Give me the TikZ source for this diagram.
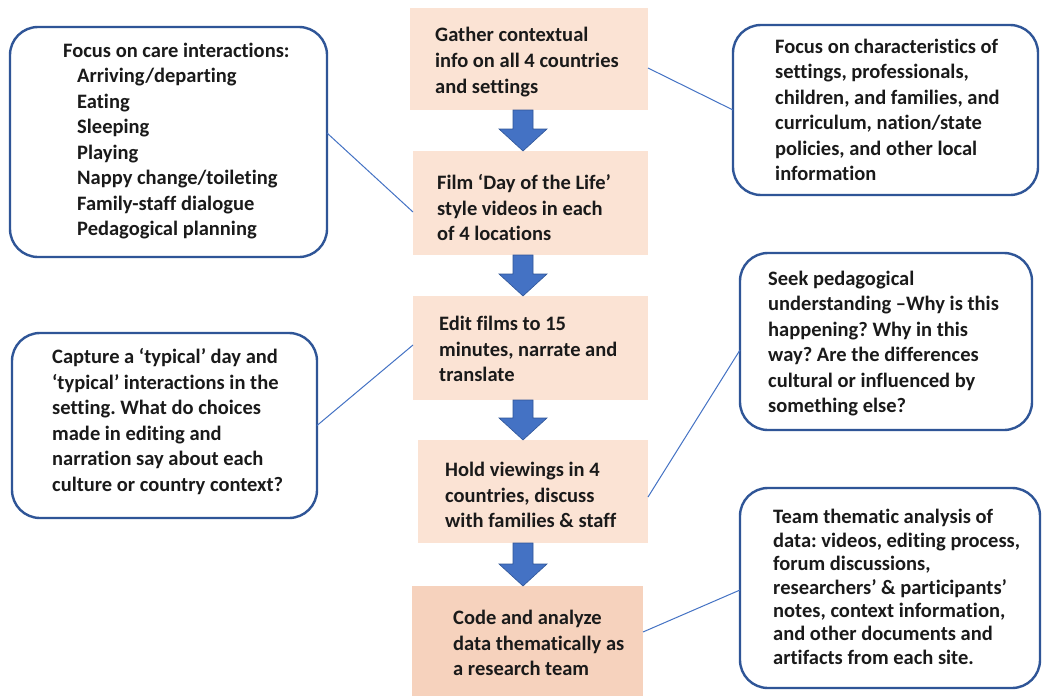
\documentclass[tikz,border=0pt]{standalone}
\usepackage{fontspec}
\setmainfont{Carlito}[Ligatures={NoCommon,NoContextual}, Contextuals=NoAlternate]
\usetikzlibrary{calc}
\frenchspacing
\definecolor{peach}{HTML}{FBE3D4}
\definecolor{peachdark}{HTML}{F6D2BD}
\definecolor{frameblue}{HTML}{2F5597}
\definecolor{connblue}{HTML}{4472C4}
\definecolor{arrowblue}{HTML}{4472C4}
\definecolor{txt}{HTML}{1A1A1A}
\newcommand\flowarrow[2]{%
  \path let \p1=(#1.south), \p2=(#2.north) in
    [blockarrow] (513pt,\y1) -- (533pt,\y1) -- (533pt,\y2+22pt) -- (547pt,\y2+22pt)
    -- (523pt,\y2) -- (499pt,\y2+22pt) -- (513pt,\y2+22pt) -- cycle;}
\begin{document}
\begin{tikzpicture}[x=1pt,y=-1pt,
  stepbox/.style={fill=peach, draw=none, inner sep=0pt, outer sep=0pt},
  sidebox/.style={draw=frameblue, line width=2.4pt, rounded corners=28pt, fill=white, inner sep=0pt, outer sep=0pt},
  lbl/.style={anchor=west, align=left, inner sep=0pt, text=txt, font=\fontsize{20.5}{25.5}\selectfont\bfseries},
  conn/.style={draw=connblue, line width=1pt},
  blockarrow/.style={fill=arrowblue, draw=frameblue, line width=0.6pt}]
\useasboundingbox[fill=white] (0,0) rectangle (1042,696);

% central step boxes
\node[stepbox, minimum width=238, minimum height=102] (C1) at (529,59) {};
\node[stepbox, minimum width=235, minimum height=104] (C2) at (530.5,203) {};
\node[stepbox, minimum width=235, minimum height=104] (C3) at (530.5,348) {};
\node[stepbox, minimum width=230, minimum height=103] (C4) at (533,491.5) {};
\node[stepbox, fill=peachdark, minimum width=231, minimum height=114] (C5) at (527.5,643) {};

\node[lbl, font=\fontsize{20.5}{26}\selectfont\bfseries] (T1) at (435,62) {Gather contextual\\info on all 4 countries\\and settings};
\node[lbl] (T2) at (437,208) {Film ‘Day of the Life’\\style videos in each\\of 4 locations};
\node[lbl] (T3) at (439,349) {Edit films to 15\\minutes, narrate and\\translate};
\node[lbl] (T4) at (445,495) {Hold viewings in 4\\countries, discuss\\with families \& staff};
\node[lbl] (T5) at (453,643) {Code and analyze\\data thematically as\\a research team};

% side boxes
\node[sidebox, minimum width=317, minimum height=230] (L1) at (168.5,142) {};
\node[sidebox, minimum width=305, minimum height=170] (R1) at (885.5,110) {};
\node[sidebox, minimum width=305, minimum height=185] (L2) at (164.5,425.5) {};
\node[sidebox, minimum width=292, minimum height=177] (R2) at (886,341.5) {};
\node[sidebox, minimum width=300, minimum height=200] (R3) at (890,588) {};

\node[lbl] (TL1) at (63,141) {Focus on care interactions:\\
  \hspace*{14pt}Arriving/departing\\
  \hspace*{14pt}Eating\\
  \hspace*{14pt}Sleeping\\
  \hspace*{14pt}Playing\\
  \hspace*{14pt}Nappy change/toileting\\
  \hspace*{14pt}Family-staff dialogue\\
  \hspace*{14pt}Pedagogical planning};
\node[lbl] (TR1) at (775,110) {Focus on characteristics of\\settings, professionals,\\children, and families, and\\curriculum, nation/state\\policies, and other local\\information};
\node[lbl] (TL2) at (52,421.5) {Capture a ‘typical’ day and\\‘typical’ interactions in the\\setting. What do choices\\made in editing and\\narration say about each\\culture or country context?};
\node[lbl] (TR2) at (768,343.5) {Seek pedagogical\\understanding –Why is this\\happening? Why in this\\way? Are the differences\\cultural or influenced by\\something else?};
\node[lbl, font=\fontsize{20.5}{23.4}\selectfont\bfseries] (TR3) at (773,587) {Team thematic analysis of\\data: videos, editing process,\\forum discussions,\\researchers’ \& participants’\\notes, context information,\\and other documents and\\artifacts from each site.};

% block arrows
\flowarrow{C1}{C2}
\flowarrow{C2}{C3}
\flowarrow{C3}{C4}
\flowarrow{C4}{C5}

% connectors
\draw[conn] ($(L1.east)+(0,-9)$) -- ($(C2.west)+(0,9)$);
\draw[conn] ($(C1.east)+(0,9)$) -- (R1.west);
\draw[conn] (L2.east) -- ($(C3.west)+(0,-3)$);
\draw[conn] ($(C4.east)+(0,5.5)$) -- ($(R2.west)+(0,8.5)$);
\draw[conn] ($(C5.east)+(0,-11)$) -- ($(R3.west)+(0,2)$);
\end{tikzpicture}
\end{document}
